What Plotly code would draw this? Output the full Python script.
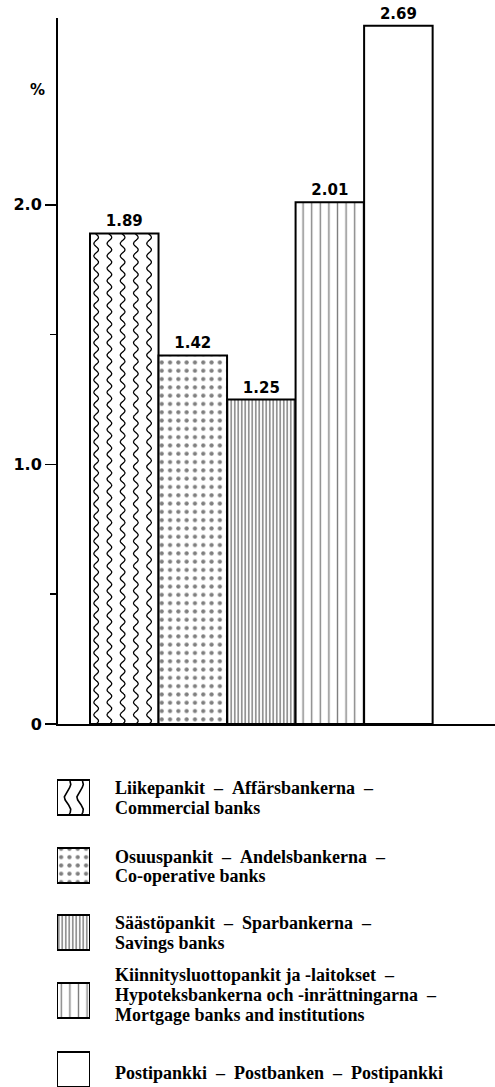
import numpy as np
import plotly.graph_objects as go

# ---------------- data ----------------
categories = ["Liikepankit", "Osuuspankit", "Säästöpankit", "Kiinnitysluottopankit", "Postipankki"]
values = [1.89, 1.42, 1.25, 2.01, 2.69]
value_labels = ["1.89", "1.42", "1.25", "2.01", "2.69"]
tick_values = [0, 1.0, 2.0]
tick_labels = ["0", "1.0", "2.0"]
minor_tick_values = [0.5, 1.5]
legend_lines = [
    ["Liikepankit\u00a0\u00a0–\u00a0\u00a0Affärsbankerna\u00a0\u00a0–", "Commercial banks"],
    ["Osuuspankit\u00a0\u00a0–\u00a0\u00a0Andelsbankerna\u00a0\u00a0–", "Co-operative banks"],
    ["Säästöpankit\u00a0\u00a0–\u00a0\u00a0Sparbankerna\u00a0\u00a0–", "Savings banks"],
    ["Kiinnitysluottopankit ja -laitokset\u00a0\u00a0–",
     "Hypoteksbankerna och -inrättningarna\u00a0\u00a0–",
     "Mortgage banks and institutions"],
    ["Postipankki\u00a0\u00a0–\u00a0\u00a0Postbanken\u00a0\u00a0–\u00a0\u00a0Postipankki"],
]

# ---------------- styles ----------------
W, H = 495, 1087
pat_shapes = ["", ".", "|", "|", ""]
pat_sizes = [8, 8.3, 3.5, 8.6, 8]
pat_solid = [0.0, 0.2, 0.42, 0.16, 0.0]
wavy = [True, False, False, False, False]

SANS = "DejaVu Sans"
SERIF = "Liberation Serif"

def px_y(p):
    return 1 - p / H

def px_x(p):
    return p / W

fig = go.Figure()

x_idx = list(range(len(values)))
fig.add_trace(go.Bar(
    x=x_idx, y=values, width=1.0,
    marker=dict(color="white", line=dict(color="black", width=2),
                pattern=dict(shape=pat_shapes, size=pat_sizes, solidity=pat_solid,
                             fgcolor="black", bgcolor="white", fillmode="overlay")),
    text=value_labels, textposition="outside", cliponaxis=False,
    textfont=dict(family=SANS, size=15, color="black", weight="bold"),
    hoverinfo="skip", showlegend=False,
))

# wavy texture lines inside bars flagged as wavy
y_range_top = 2.72
plot_h_px = 724 - 18
plot_w_px = W - 58
x_range = [-0.967, 5.41]
ux = plot_w_px / (x_range[1] - x_range[0])
uy = plot_h_px / y_range_top
for i, (v, w) in enumerate(zip(values, wavy)):
    if not w:
        continue
    yy = np.linspace(0, v, 1200)
    for k in range(5):
        f = 0.09 + k * 0.193
        xx = i - 0.5 + f + (2.3 / ux) * np.sin(2 * np.pi * (yy * uy) / 12.4)
        fig.add_trace(go.Scatter(x=xx, y=yy, mode="lines",
                                 line=dict(color="black", width=1.3, shape="spline"),
                                 hoverinfo="skip", showlegend=False))

# ---------------- legend icons (second axes) ----------------
icon_tops = [780, 848, 915, 983, 1052]
icon_h = 35
fig.add_trace(go.Bar(
    x=[0.5] * len(values), y=[icon_h] * len(values), base=icon_tops, width=1.0,
    xaxis="x2", yaxis="y2",
    marker=dict(color="white", line=dict(color="black", width=2),
                pattern=dict(shape=pat_shapes, size=pat_sizes, solidity=pat_solid,
                             fgcolor="black", bgcolor="white", fillmode="overlay")),
    hoverinfo="skip", showlegend=False,
))
for i, w in enumerate(wavy):
    if not w:
        continue
    yy = np.linspace(icon_tops[i] + 1, icon_tops[i] + icon_h - 1, 200)
    for f in [0.32, 0.7]:
        xx = f + (3.2 / 33) * np.sin(2 * np.pi * (yy - icon_tops[i]) / 26 + 0.6)
        fig.add_trace(go.Scatter(x=xx, y=yy, mode="lines", xaxis="x2", yaxis="y2",
                                 line=dict(color="black", width=1.6),
                                 hoverinfo="skip", showlegend=False))

# legend texts
line_y = [[788, 808], [857, 876], [923, 943], [975, 995, 1015], [1073]]
annotations = []
for lines, ys in zip(legend_lines, line_y):
    for t, yp in zip(lines, ys):
        annotations.append(dict(
            text=t, xref="paper", yref="paper", x=px_x(113), y=px_y(yp),
            xanchor="left", yanchor="middle", showarrow=False,
            font=dict(family=SERIF, size=18, color="black", weight="bold")))

# "%" label
annotations.append(dict(text="%", xref="paper", yref="paper", x=px_x(37), y=px_y(90),
                        xanchor="center", yanchor="middle", showarrow=False,
                        font=dict(family=SANS, size=15, color="black", weight="bold")))

fig.update_layout(
    width=W, height=H, autosize=False,
    margin=dict(l=0, r=0, t=0, b=0, autoexpand=False),
    paper_bgcolor="white", plot_bgcolor="white",
    bargap=0,
    xaxis=dict(domain=[58 / W, 1], range=x_range, showline=True, linecolor="black",
               linewidth=2, showticklabels=False, ticks="", showgrid=False,
               zeroline=False, fixedrange=True, automargin=False),
    yaxis=dict(domain=[px_y(724), px_y(18)], range=[0, y_range_top], showline=True,
               linecolor="black", linewidth=2, showgrid=False, zeroline=False,
               automargin=False,
               tickvals=tick_values, ticktext=tick_labels, ticks="outside",
               ticklen=11, tickwidth=1.5, tickcolor="black",
               tickfont=dict(family=SANS, size=16, color="black", weight="bold"),
               minor=dict(tickvals=minor_tick_values, ticks="outside", ticklen=6,
                          tickwidth=1.5, tickcolor="black", showgrid=False)),
    xaxis2=dict(domain=[57 / W, 90 / W], range=[0, 1], visible=False,
                anchor="y2", fixedrange=True),
    yaxis2=dict(domain=[0, px_y(770)], range=[H, 770], visible=False,
                anchor="x2", fixedrange=True),
    annotations=annotations,
    showlegend=False,
)

fig.write_html(
    "out.html",
    config={"displayModeBar": False, "staticPlot": True},
    post_script="document.body.style.margin='0';document.body.style.padding='0';",
)
